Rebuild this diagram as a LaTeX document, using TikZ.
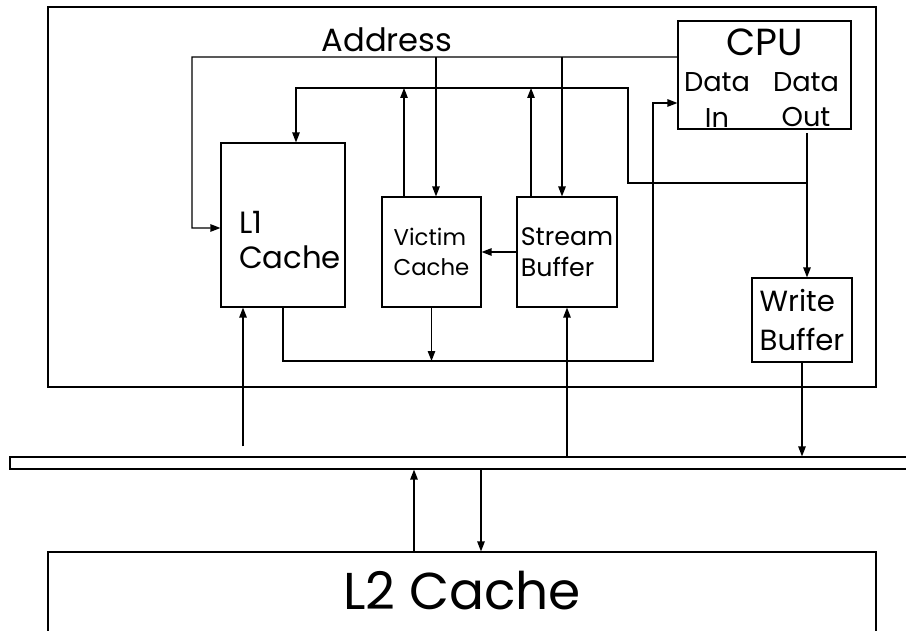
\documentclass[tikz,border=0pt]{standalone}
\usepackage{fontspec}
\setmainfont{Poppins}
\usetikzlibrary{arrows.meta}
\begin{document}
\begin{tikzpicture}[x=0.02cm,y=-0.02cm,line width=0.7pt,
    >={Triangle[length=0.2cm,width=0.15cm]},
    box/.style={draw,inner sep=0pt,align=left},
    txt/.style={inner sep=0pt,align=center}]
            \useasboundingbox (0,0) rectangle (906,631);
            \clip (0,0) rectangle (906,631);
            \draw (48,7) rectangle (876,387);
            \node[box,minimum width=3.46cm,minimum height=2.16cm] (cpu) at (764.5,75) {};
            \node[txt,font=\fontsize{21.5}{24}\selectfont] (cputxt) at (765,42) {CPU};
            \node[txt,font=\fontsize{15.5}{20}\selectfont] (din) at (717,100) {Data\\In};
            \node[txt,font=\fontsize{15.5}{20}\selectfont] (dout) at (806,100) {Data\\Out};
            \node[txt,font=\fontsize{18.3}{22}\selectfont] (addr) at (387,40) {Address};
            \node[box,minimum width=2.48cm,minimum height=3.28cm] (l1) at (283,225) {};
            \node[txt,align=left,font=\fontsize{17.5}{20.4}\selectfont] (l1txt) at (290,240) {L1\\Cache};
            \node[box,minimum width=1.98cm,minimum height=2.2cm,font=\fontsize{13}{17}\selectfont] (victim) at (431.5,252) {Victim\\Cache};
            \node[box,minimum width=2cm,minimum height=2.2cm,font=\fontsize{14.4}{18}\selectfont] (stream) at (567,252) {Stream\\Buffer};
            \node[box,minimum width=2cm,minimum height=1.68cm,font=\fontsize{16.6}{22.7}\selectfont] (wbuf) at (802,320) {Write\\Buffer};
            \node[box,minimum width=18.4cm,minimum height=0.24cm] (bus) at (470,463) {};
            \node[box,minimum width=16.56cm,minimum height=3cm] (l2) at (462,627) {};
            \node[txt,font=\fontsize{29.5}{34}\selectfont] (l2txt) at (462,591) {L2 Cache};
            \coordinate (acorner) at (192,57);
            \coordinate (dcorner) at (628,88);
            \coordinate (djoin) at (628,183);
            \coordinate (dtap) at (807,133);
            \coordinate (bcorner) at (653,361);
            \draw[->] ([yshift=0.36cm]cpu.west) -- (acorner) |- ([yshift=-0.06cm]l1.west);
            \draw[->] ([xshift=0.09cm]victim.north |- acorner) -- ([xshift=0.09cm]victim.north);
            \draw[->] ([xshift=-0.1cm]stream.north |- acorner) -- ([xshift=-0.1cm]stream.north);
            \draw[->] (dtap) -- (dtap |- wbuf.north);
            \draw[->] (dtap |- djoin) -- (djoin) -- (dcorner) -| ([xshift=0.26cm]l1.north);
            \draw[->] ([xshift=-0.55cm]victim.north) -- ([xshift=-0.55cm]victim.north |- dcorner);
            \draw[->] ([xshift=-0.72cm]stream.north) -- ([xshift=-0.72cm]stream.north |- dcorner);
            \draw[->] (stream.west) -- (victim.east);
            \draw[->] (l1.south) |- (bcorner) |- ([yshift=-0.56cm]cpu.west);
            \draw[->] (victim.south) -- (victim.south |- bcorner);
            \draw[->] ([xshift=-0.8cm,yshift=0.2cm]l1.south |- bus.north) -- ([xshift=-0.8cm]l1.south);
            \draw[->] (stream.south |- bus.north) -- (stream.south);
            \draw[->] (wbuf.south) -- (wbuf.south |- bus.north);
            \draw[->] ([xshift=-0.96cm]l2.north) -- ([xshift=-0.96cm]l2.north |- bus.south);
            \draw[->] ([xshift=0.38cm]l2.north |- bus.south) -- ([xshift=0.38cm]l2.north);
        \end{tikzpicture}
\end{document}
